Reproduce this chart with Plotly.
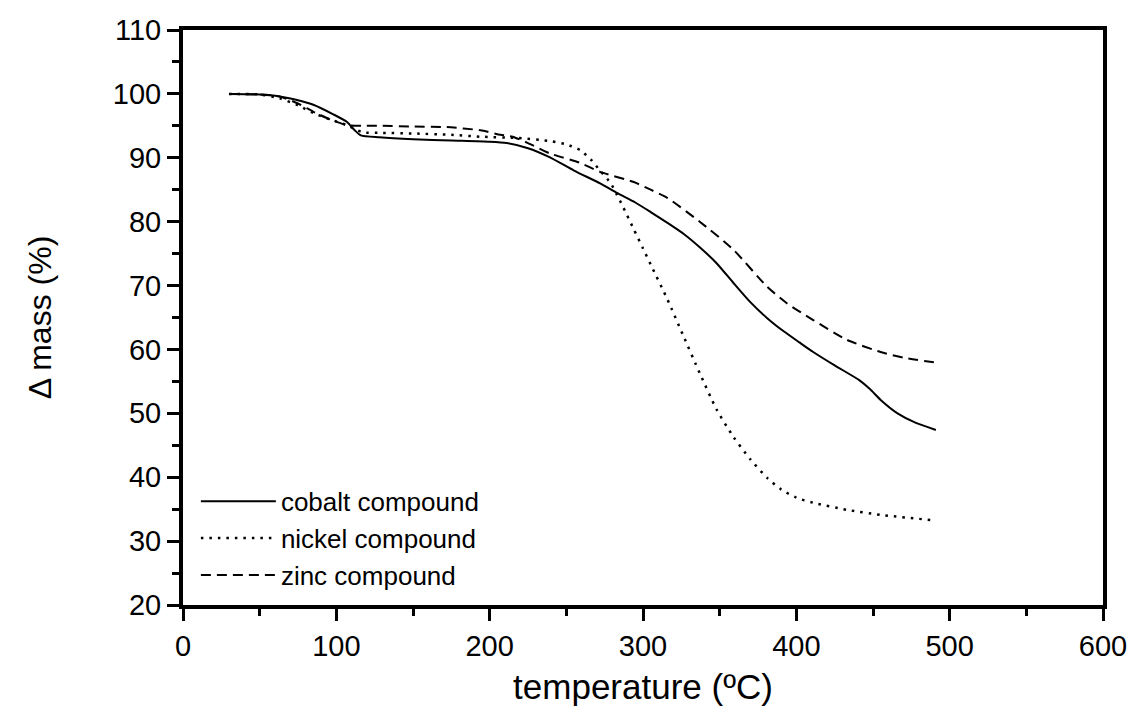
import plotly.graph_objects as go

# ---- data ----
cobalt_T = [30, 50, 63, 75, 85, 98, 107, 112, 116, 128, 150, 175, 200, 211, 225, 239, 255,
            272, 283, 295, 305, 316, 327, 337, 348, 359, 370, 381, 392, 402, 411, 425, 441,
            448, 455, 466, 478, 491]
cobalt_m = [100, 99.9, 99.6, 99.0, 98.3, 96.8, 95.6, 94.3, 93.5, 93.2, 92.9, 92.7, 92.5,
            92.3, 91.5, 90.1, 88.0, 86.0, 84.5, 83.0, 81.5, 79.8, 78.0, 76.0, 73.5, 70.4,
            67.4, 64.9, 62.8, 61.1, 59.6, 57.5, 55.2, 53.8, 52.1, 50.0, 48.5, 47.4]

nickel_T = [30, 50, 63, 75, 85, 96, 107, 117, 130, 150, 175, 194, 218, 240, 250, 259, 266,
            272, 279, 283, 287, 294, 300, 305, 316, 326, 337, 348, 359, 370, 381, 390, 400,
            411, 433, 455, 488]
nickel_m = [100, 99.9, 99.3, 98.2, 97.0, 96.0, 95.1, 94.0, 93.9, 93.8, 93.6, 93.3, 93.1,
            92.6, 92.1, 91.2, 89.7, 88.0, 86.0, 84.2, 82.3, 78.8, 75.8, 73.3, 67.8, 62.3,
            56.3, 50.6, 46.3, 42.8, 39.9, 38.1, 36.8, 36.0, 34.9, 34.1, 33.3]

zinc_T = [30, 50, 63, 75, 85, 96, 107, 117, 130, 150, 172, 194, 207, 215, 225, 239, 259,
          272, 294, 305, 316, 337, 359, 381, 394, 411, 433, 455, 470, 492]
zinc_m = [100, 99.9, 99.6, 98.5, 97.2, 96.0, 95.1, 95.0, 95.0, 94.9, 94.8, 94.3, 93.6,
          93.3, 92.3, 90.7, 89.2, 87.8, 86.2, 85.0, 83.7, 80.0, 75.6, 69.8, 67.2, 64.6,
          61.5, 59.6, 58.7, 57.9]

series_names = ["cobalt compound", "nickel compound", "zinc compound"]
x_ticks = [0, 100, 200, 300, 400, 500, 600]
y_ticks = [20, 30, 40, 50, 60, 70, 80, 90, 100, 110]

FONT = "Liberation Sans, Arial, sans-serif"

fig = go.Figure()
for name, xs, ys, dash, w in [
    (series_names[0], cobalt_T, cobalt_m, "solid", 2),
    (series_names[1], nickel_T, nickel_m, "2.5px,6px", 2.5),
    (series_names[2], zinc_T, zinc_m, "10px,6px", 2),
]:
    fig.add_trace(go.Scatter(
        x=xs, y=ys, mode="lines", name=name, legendgroup=name,
        line=dict(color="black", width=w, dash=dash, shape="spline", smoothing=0.6),
    ))

axis_common = dict(
    showline=True, linecolor="black", linewidth=4, mirror=True,
    ticks="outside", ticklen=12, tickwidth=3, tickcolor="black",
    showgrid=False, zeroline=False, automargin=False,
    tickfont=dict(family=FONT, size=29, color="black"),
)

fig.update_xaxes(
    range=[0, 600], tickvals=x_ticks,
    minor=dict(ticks="outside", ticklen=7, tickwidth=3, tickcolor="black", dtick=50),
    title=dict(text="temperature (ºC)", font=dict(family=FONT, size=35, color="black"),
               standoff=18),
    **axis_common,
)
fig.update_yaxes(
    range=[20, 110], tickvals=y_ticks,
    minor=dict(ticks="outside", ticklen=7, tickwidth=3, tickcolor="black", dtick=5),
    title=dict(text="Δ mass (%)", font=dict(family=FONT, size=32, color="black"),
               standoff=53),
    **axis_common,
)

fig.update_layout(
    width=1134, height=706,
    margin=dict(l=183, r=31, t=30, b=101, autoexpand=False),
    paper_bgcolor="white", plot_bgcolor="white",
    legend=dict(
        x=0.014, y=0.221, xanchor="left", yanchor="top",
        bgcolor="rgba(0,0,0,0)", borderwidth=0,
        font=dict(family=FONT, size=26, color="black"),
        itemwidth=75, tracegroupgap=0,
    ),
)

fig.write_html("out.html")
